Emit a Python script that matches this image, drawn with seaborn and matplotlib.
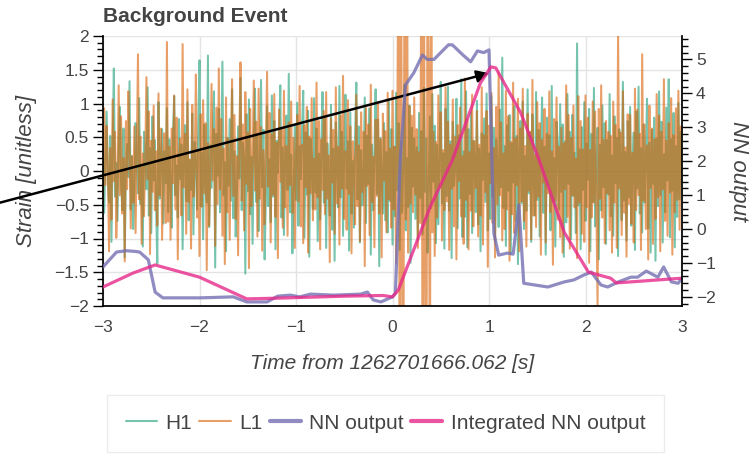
import numpy as np
import pandas as pd
import seaborn as sns
import matplotlib.pyplot as plt
from matplotlib.ticker import MultipleLocator, FuncFormatter
from matplotlib.lines import Line2D

GPS_TIME = "1262701666.062"

# strain samples (H1, L1), evenly spaced over [-3, 3] s
H1 = [0.31, -0.62, 0.18, 0.88, -0.15, -0.47, 0.52, -1.05, 0.36, 1.52, -0.38, 0.12, -0.74, 0.41, 0.95, -0.21, -0.58, 0.63, -1.28, 0.07,
      0.40, -0.09, 1.33, -0.57, 0.22, -0.86, -0.31, 0.71, 0.14, -0.33, 1.08, -0.49, 0.05, -1.12, 0.58, 0.26, -0.27, 1.24, -0.66, 0.34,
      -0.92, 0.81, -0.14, 0.46, -0.53, -1.37, 1.02, -0.41, 0.19, 0.62, -0.78, 0.29, -0.18, 0.93, -0.61, 0.47, -0.25, -0.84, 0.55, 1.11,
      -0.36, 0.08, -0.69, 0.77, -0.12, 0.39, -1.16, 0.24, 0.68, -0.45, 1.02, -0.73, 0.16, -0.28, 0.85, -0.94, 0.43, 0.11, -0.57, 0.72,
      1.64, -0.52, 0.27, -1.01, 0.69, -0.18, -0.47, 1.71, -0.83, 0.38, -0.25, 0.51, 1.18, -1.43, 0.55, -0.07, 0.92, -0.61, 0.22, 1.62,
      -0.36, 0.13, -1.19, 0.49, -0.22, 0.77, -0.44, 1.21, -0.70, 0.29, -0.97, -0.32, 0.66, -0.11, 1.38, -0.58, 0.42, 0.19, -1.52, 0.84,
      -0.30, 1.06, -0.64, 0.21, -1.08, 0.35, 1.22, -0.46, 0.53, -0.89, 0.06, 1.35, -0.24, 0.61, -1.31, -0.42, 0.96, -0.52, 0.17, -0.76,
      1.12, -0.38, 0.74, -1.16, 0.45, -0.03, 0.58, 1.27, -0.69, 0.35, -0.95, 0.27, 0.82, -0.28, 1.44, -0.61, 0.24, -1.22, -0.37, 0.68,
      -0.43, 1.01, -0.81, 0.37, -0.12, 0.63, 1.19, -0.99, 0.57, -0.35, 0.89, -1.27, 0.48, 0.14, -0.56, 1.08, -0.32, 0.63, -1.04, 0.26,
      -0.72, 0.39, 1.17, -0.47, 0.79, -1.14, 0.41, -0.21, -0.66, 0.98, -0.87, 0.33, -1.33, 0.72, 0.18, -0.54, 1.26, -0.39, 0.58, -0.96,
      0.31, 1.13, -0.26, 0.44, -1.18, 0.87, -0.63, 0.15, -0.84, 0.52, 1.31, -0.42, 0.66, -1.06, 0.31, -0.51, -0.17, 1.09, -0.77, 0.52,
      -0.19, 0.93, -1.24, 0.39, -0.58, 0.24, 1.21, -0.34, 0.76, -1.41, 0.49, -0.08, -0.63, 0.71, -0.73, 0.28, -0.91, 1.04, -0.45, 0.62,
      -1.09, 0.36, -0.67, 1.16, -0.29, 0.71, -1.17, 0.43, -0.62, 0.15, 1.28, -0.88, 0.19, -0.53, 0.97, -1.36, 0.64, -0.23, 0.48, -0.71,
      0.35, -1.02, 0.86, -0.40, 0.59, -0.94, 1.23, -0.31, 0.48, -1.21, -0.27, 0.81, -0.55, 1.14, -0.16, 0.67, -1.07, 0.39, -0.79, 0.21,
      1.32, -0.48, 0.26, -1.15, 0.92, -0.37, 1.25, -0.59, 0.44, -1.29, 0.73, -0.22, 0.09, 1.07, -0.85, 0.53, -0.41, 1.36, -0.98, 0.29,
      -0.68, 1.18, -1.13, 0.62, -0.34, 0.87, -0.92, 0.45, 0.17, -0.61, 1.04, -0.79, 0.33, -1.19, 0.56, -0.13, 0.78, -0.46, 1.15, -0.88,
      0.26, -0.71, 1.11, -0.39, 0.64, -1.02, 0.47, 0.12, -0.83, 0.91, -0.24, 1.68, -0.55, 0.37, -1.11, 0.68, -0.29, 0.83, -1.23, 0.41,
      -0.17, 0.96, -0.74, 0.52, -1.38, 0.31, 0.74, -0.48, 1.03, -0.86, 0.22, -0.59, 1.21, -0.33, 0.57, -1.05, 0.84, -0.12, -0.66, 1.17,
      -0.43, 0.61, -0.97, 0.28, 1.09, -0.62, 0.36, -1.24, 0.79, -0.21, 0.53, -0.88, 1.26, -0.45, 0.19, -1.12, 0.73, 0.38, -0.57, 0.99,
      -0.31, 0.69, -1.27, 0.44, -0.76, 1.14, -0.19, 0.58, -1.01, 0.83, -0.37, 0.27, -0.92, 1.89, -0.51, 0.32, -1.16, 0.65, -0.28, 1.02,
      -0.74, 0.41, -0.13, 0.92, -1.19, 0.55, -0.46, 1.23, -0.82, 0.18, 0.64, -1.31, 0.39, -0.58, 0.97, -0.24, 0.71, -1.08, 0.46, -0.35,
      1.14, -0.67, 0.23, -0.96, 0.81, -0.18, 0.49, -1.26, 0.62, 0.11, -0.73, 1.32, -0.44, 0.28, -1.03, 0.74, -0.39, 0.95, -0.81, 0.16,
      0.57, -1.17, 0.88, -0.26, 1.25, -0.63, 0.34, -0.91, 0.69, -0.47, 0.13, 1.07, -0.85, 0.42, -1.21, 0.61, -0.19, 0.79, -1.33, 0.48,
      -0.52, 1.18, -0.36, 0.73, -1.06, 0.25, -0.61, 0.94, -0.14, 1.36, -0.98, 0.47, -0.29, 0.86, -1.13, 0.37, -0.68, 1.01, -0.42, 0.58,
      -0.22]
L1 = [-0.48, 0.93, -0.21, 0.67, 0.12, -1.19, 0.34, -0.72, 1.06, -0.15, 0.58, -0.99, -0.26, 1.27, -0.36, 0.81, -0.63, 0.19, -1.34, 0.74,
      -0.27, 1.18, 0.41, -0.85, 0.22, -0.47, 0.66, -0.92, 0.31, 1.73, -0.42, 0.51, -1.08, 0.26, -0.67, 0.18, 1.39, -0.12, 0.88, -1.23,
      0.45, -0.31, 0.97, -0.58, 0.29, -0.81, 1.15, -0.36, 0.63, -1.02, 0.24, 0.56, -0.77, 1.91, -0.75, 0.36, -1.02, 0.63, -0.18, 1.12,
      -0.57, 0.79, -1.31, 0.22, 0.48, -0.66, 1.88, -0.24, 0.55, -0.93, 1.21, -0.46, 0.17, -1.15, 0.98, -0.38, 0.08, 1.43, -0.69, 0.29,
      -1.26, 0.84, -0.53, 1.05, -0.33, 0.71, -1.47, 0.41, -0.81, 0.16, 1.29, -0.14, 0.62, -1.11, 0.94, -0.49, 1.52, -0.27, 0.77, -0.96,
      0.33, -1.38, 1.09, -0.61, 0.48, -1.02, 0.25, 1.36, -0.37, 0.83, -0.71, 0.22, -1.25, 0.47, 1.61, -0.44, 0.69, -0.88, 1.17, -0.19,
      0.57, -1.44, 0.92, -0.52, 0.14, 1.34, -0.29, 0.73, -0.97, 1.22, -0.41, 0.65, -1.18, 0.31, -0.79, 0.28, 1.47, -0.23, 0.86, -1.06,
      0.54, -0.35, 1.14, -0.68, 0.42, -1.29, 0.91, -0.16, 0.61, -0.84, 1.19, -0.54, 0.37, -0.96, 0.72, -0.21, 1.03, -0.62, 0.49, -1.14,
      0.26, 0.83, -0.45, 1.26, -0.82, 0.39, -1.07, 0.68, -0.24, 0.95, -1.21, 0.51, -0.33, 1.08, -0.73, 0.18, -0.57, 1.31, -0.39, 0.74,
      -1.16, 0.47, -0.28, 0.89, -0.64, 1.17, -0.41, 0.23, -1.35, 0.78, -0.17, 0.61, -0.93, 1.24, -0.48, 0.36, -1.09, 0.82, -0.26, 1.41,
      -0.71, 0.29, -0.87, 1.05, -0.34, 0.66, -1.22, 0.44, 0.12, -0.79, 1.13, -0.52, 0.38, -1.04, 0.87, -0.31, 0.58, -1.41, 0.93, -0.22,
      0.69, -0.95, 1.28, -0.46, 0.21, -1.13, 0.76, -0.37, 1.02, -0.63, 0.47, -1.28, 0.85, -0.14, 0.59, -0.91, 1.16, -0.42, 0.33, -0.84,
      1.19, -0.57, 0.36, -1.37, 0.74, 3.90, -4.60, 4.30, -1.55, -3.80, 4.20, -0.72, 3.60, -1.21, 0.96, -0.48, 0.82, -0.61, 1.09, -0.35,
      0.62, -1.14, 0.28, -0.77, 4.10, -4.40, 3.70, -1.62, -4.90, 3.20, 1.45, -3.90, 4.50, -0.91, 0.58, -1.26, 0.43, -0.69, 1.12, -0.24,
      0.87, -1.03, 0.31, -0.58, 1.24, -0.45, 0.73, -1.17, 0.39, -0.26, 1.06, -0.82, 0.51, -1.31, 0.68, -0.15, 0.94, -0.67, 0.22, -1.08,
      1.37, -0.43, 0.76, -1.16, 0.28, -0.59, 1.13, -0.82, 0.44, -0.25, 0.89, -0.97, 0.39, -0.66, 1.24, -1.09, 0.53, -0.31, 0.89, -1.42,
      0.67, -0.18, 1.16, -0.77, 0.34, -1.28, 0.95, -0.49, 1.46, -0.36, 0.72, -1.03, 0.26, -0.86, 1.19, -0.57, 0.81, -1.33, 0.43, -0.64,
      1.31, -0.92, 0.48, -0.21, 1.07, -1.19, 0.63, -0.45, 1.22, -0.74, 0.37, -1.12, 0.85, -0.29, 0.58, -1.01, 1.35, -0.66, 0.24, -0.83,
      1.02, -0.38, 0.71, -1.24, 0.46, -0.17, 0.92, -1.06, 0.55, -0.33, 1.18, -0.61, 0.29, -1.39, 0.77, -0.44, 1.09, -0.72, 0.36, -0.98,
      0.64, -1.21, 0.41, -0.27, 1.27, -0.68, 0.83, -1.15, 0.49, -0.36, 0.97, -0.54, 0.18, -1.29, 1.11, -0.47, 0.74, -0.93, 0.32, -1.05,
      1.12, -0.54, 0.79, -1.36, 0.31, -0.69, 1.03, -0.47, 0.88, -0.61, -1.98, 0.92, -0.41, 1.27, -0.69, 0.46, -1.07, 0.74, -0.33, 0.58,
      -0.88, 0.52, -1.21, 1.03, -0.47, 0.68, -1.14, 2.05, -0.26, 0.57, -0.95, 1.18, -0.62, 0.35, -1.27, 0.84, -0.49, 0.83, -0.78, 0.27,
      -1.06, 1.22, -0.58, 0.91, -0.36, 0.55, -1.17, 1.73, -0.44, 0.69, -0.86, 0.38, -1.31, 0.97, -0.25, 0.63, -1.08, 0.47, -0.71, 1.14,
      -0.39, 0.82, -1.19, 0.58, -0.27, 1.36, -0.74, 0.45, -0.96, 0.71, -0.32, 1.08, -1.24, 0.53, -0.61, 0.93, -0.43, 1.19, -0.87, 0.66,
      -0.12]

# network output and its integrated version (right axis)
NN_T = [-3.0, -2.86, -2.76, -2.67, -2.62, -2.53, -2.46, -2.38, -1.99, -1.65, -1.51, -1.30, -1.19, -1.06, -0.96, -0.85,
        -0.61, -0.33, -0.26, -0.20, -0.12, 0.0, 0.03, 0.08, 0.135, 0.22, 0.31, 0.36, 0.43, 0.58, 0.62, 0.73, 0.81, 0.88,
        0.945, 1.0, 1.05, 1.10, 1.19, 1.25, 1.31, 1.36, 1.61, 1.78, 1.88, 1.98, 2.06, 2.16, 2.23, 2.34, 2.47, 2.54, 2.63,
        2.75, 2.81, 2.89, 2.96, 3.0]
NN_VAL = [-1.12, -0.68, -0.64, -0.66, -0.68, -0.91, -1.86, -2.03, -2.03, -2.0, -2.15, -2.15, -1.98, -1.95, -2.0, -1.92,
          -1.95, -1.92, -1.86, -2.09, -2.15, -2.0, -1.9, 2.03, 4.25, 4.6, 5.13, 5.0, 5.0, 5.43, 5.43, 5.13, 4.93, 5.25,
          5.2, 5.28, -0.12, -0.77, -0.71, -0.74, 0.71, -1.6, -1.71, -1.56, -1.5, -1.36, -1.27, -1.65, -1.71, -1.56, -1.42,
          -1.42, -1.24, -1.42, -1.12, -1.56, -1.6, -1.45]
INT_T = [-3.0, -2.69, -2.46, -2.0, -1.51, -1.2, -0.5, -0.1, 0.0, 0.06, 0.39, 0.62, 0.91, 1.02, 1.07, 1.33, 1.52, 1.78,
         2.03, 2.26, 2.32, 3.0]
INT_VAL = [-1.71, -1.30, -1.06, -1.42, -2.06, -2.04, -1.98, -1.96, -2.0, -1.8, 0.65, 2.03, 4.3, 4.78, 4.75, 3.42, 2.03,
           -0.1, -1.27, -1.45, -1.59, -1.45]

C_H1 = "#1b9e77"
C_L1 = "#d95f02"
C_NN = "#7570b3"
C_INT = "#e7298a"
TXT = "#444444"

sns.set_theme(style="white")
plt.rcParams["font.family"] = ["Liberation Sans", "DejaVu Sans"]

fig = plt.figure(figsize=(7.54, 4.55), dpi=100)
ax = fig.add_axes([103 / 754, 1 - 306 / 455, (682 - 103) / 754, (306 - 36) / 455])
ax2 = ax.twinx()

df_h1 = pd.DataFrame({"time": np.linspace(-3, 3, len(H1)), "strain": H1})
df_l1 = pd.DataFrame({"time": np.linspace(-3, 3, len(L1)), "strain": L1})
df_nn = pd.DataFrame({"time": NN_T, "nn": NN_VAL})
df_int = pd.DataFrame({"time": INT_T, "integrated": INT_VAL})

sns.lineplot(ax=ax, data=df_h1, x="time", y="strain", color=C_H1, alpha=0.6, lw=1.45,
             estimator=None, sort=False)
sns.lineplot(ax=ax, data=df_l1, x="time", y="strain", color=C_L1, alpha=0.6, lw=1.45,
             estimator=None, sort=False)
sns.lineplot(ax=ax2, data=df_nn, x="time", y="nn", color=C_NN, alpha=0.8, lw=2.3,
             estimator=None, sort=False)
sns.lineplot(ax=ax2, data=df_int, x="time", y="integrated", color=C_INT, alpha=0.8, lw=2.3,
             estimator=None, sort=False)

ax.set_xlim(-3, 3)
ax.set_ylim(-2, 2)
ax2.set_ylim(-2.27, 5.69)

fmt = FuncFormatter(lambda v, p: f"{v:g}".replace("-", "\u2212"))
ax.xaxis.set_major_locator(MultipleLocator(1))
ax.xaxis.set_minor_locator(MultipleLocator(0.2))
ax.yaxis.set_major_locator(MultipleLocator(0.5))
ax.yaxis.set_minor_locator(MultipleLocator(0.1))
ax2.yaxis.set_major_locator(MultipleLocator(1))
ax2.yaxis.set_minor_locator(MultipleLocator(0.2))
for a in (ax.xaxis, ax.yaxis, ax2.yaxis):
    a.set_major_formatter(fmt)

for a in (ax, ax2):
    a.tick_params(which="major", direction="out", length=7, width=1, color="black",
                  labelcolor=TXT, labelsize=12.5, pad=3)
    a.tick_params(which="minor", direction="out", length=4, width=1, color="black")
    for s in a.spines.values():
        s.set_visible(False)
ax.spines["left"].set_visible(True)
ax.spines["bottom"].set_visible(True)
ax2.spines["right"].set_visible(True)
for s in ("left", "bottom"):
    ax.spines[s].set_color("black")
ax2.spines["right"].set_color("black")

ax.grid(True, which="major", color="#e4e4e4", lw=1)
ax.set_axisbelow(True)

ax.set_xlabel(f"Time from {GPS_TIME} [s]", fontsize=15, style="italic", color=TXT, labelpad=14)
ax.set_ylabel("Strain [unitless]", fontsize=16, style="italic", color=TXT, labelpad=13)
ax2.set_ylabel("NN output", fontsize=16, style="italic", color=TXT, rotation=270, labelpad=24)

fig.text(103 / 754, 1 - 17 / 455, "Background Event", ha="left", va="center",
         fontsize=15, fontweight="bold", color=TXT)

# arrow pointing at the integrated peak
ax.annotate("", xy=(1.0, 1.45), xytext=(-4.07, -0.47), annotation_clip=False,
            arrowprops=dict(arrowstyle="-|>", color="black", lw=1.8, mutation_scale=18,
                            shrinkA=0, shrinkB=0),
            zorder=10)

handles = [
    Line2D([], [], color=C_H1, alpha=0.6, lw=1.5),
    Line2D([], [], color=C_L1, alpha=0.6, lw=1.5),
    Line2D([], [], color=C_NN, alpha=0.8, lw=3),
    Line2D([], [], color=C_INT, alpha=0.8, lw=3),
]
labels = ["H1", "L1", "NN output", "Integrated NN output"]
leg = fig.legend(handles, labels, loc="upper left", bbox_to_anchor=(107 / 754, 1 - 395 / 455),
                 ncol=4, fontsize=15, frameon=True, fancybox=False, handlelength=1.5,
                 handletextpad=0.4, columnspacing=0.35, borderpad=0.9, borderaxespad=0,
                 labelcolor=TXT)
leg.get_frame().set_edgecolor("#e8e8e8")
leg.get_frame().set_linewidth(1)

fig.savefig("out.png", dpi=100)
